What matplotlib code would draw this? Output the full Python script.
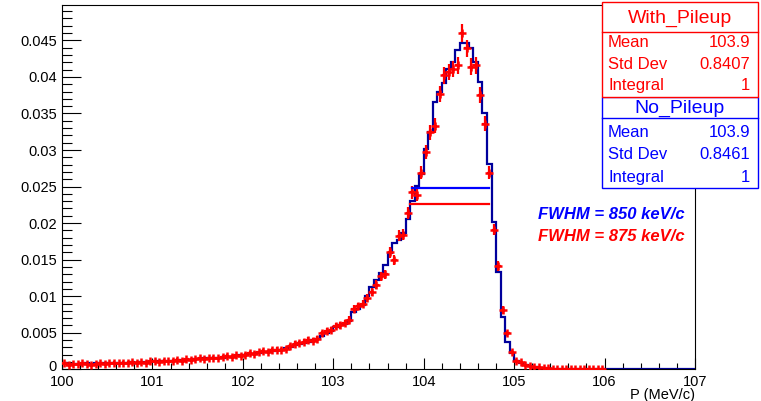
"""Momentum spectrum with and without pileup, drawn in ROOT style."""

import numpy as np
import matplotlib

matplotlib.use("Agg")
import matplotlib.pyplot as plt
from matplotlib.lines import Line2D
from matplotlib.patches import Rectangle
from matplotlib.ticker import FuncFormatter, MultipleLocator

plt.rcParams["font.family"] = ["Liberation Sans", "DejaVu Sans"]

P_MIN = 100.0
P_MAX = 107.0
BIN_WIDTH = 0.05

# 140 bins of 0.05 MeV/c, rows of 10 bins (0.5 MeV/c each)
no_pileup = [
    0.0008, 0.0007, 0.0007, 0.0007, 0.0007, 0.0008, 0.0007, 0.0008, 0.0008, 0.0008,
    0.0009, 0.0008, 0.0009, 0.0009, 0.0009, 0.0010, 0.0009, 0.0010, 0.0010, 0.0010,
    0.0011, 0.0011, 0.0011, 0.0012, 0.0012, 0.0012, 0.0013, 0.0013, 0.0013, 0.0014,
    0.0014, 0.0015, 0.0015, 0.0015, 0.0016, 0.0016, 0.0017, 0.0017, 0.0018, 0.0019,
    0.0020, 0.0021, 0.0021, 0.0022, 0.0023, 0.0024, 0.0025, 0.0026, 0.0027, 0.0029,
    0.0031, 0.0033, 0.0034, 0.0036, 0.0038, 0.0040, 0.0042, 0.0045, 0.0049, 0.0053,
    0.0058, 0.0060, 0.0062, 0.0066, 0.0079, 0.0083, 0.0088, 0.0100, 0.0113, 0.0122,
    0.0132, 0.0143, 0.0159, 0.0173, 0.0177, 0.0187, 0.0205, 0.0230, 0.0251, 0.0267,
    0.0301, 0.0324, 0.0366, 0.0379, 0.0392, 0.0411, 0.0420, 0.0437, 0.0446, 0.0447,
    0.0440, 0.0420, 0.0393, 0.0350, 0.0281, 0.0202, 0.0133, 0.0072, 0.0037, 0.0022,
    0.0012, 0.0009, 0.0006, 0.0004, 0.0003, 0.0002, 0.0002, 0.0001, 0.0001, 0.0001,
    0.0001, 0.0001, 0.00005, 0.00005, 0.00003, 0.00003, 0.00002, 0.00002, 0.00001, 0.00001,
    0.0, 0.0, 0.0, 0.0, 0.0, 0.0, 0.0, 0.0, 0.0, 0.0,
    0.0, 0.0, 0.0, 0.0, 0.0, 0.0, 0.0, 0.0, 0.0, 0.0,
]

with_pileup = [
    0.0008, 0.0006, 0.0007, 0.0007, 0.0008, 0.0007, 0.0006, 0.0007, 0.0008, 0.0007,
    0.0008, 0.0009, 0.0008, 0.0009, 0.0009, 0.0010, 0.0009, 0.0010, 0.0009, 0.0011,
    0.0011, 0.0010, 0.0012, 0.0011, 0.0012, 0.0013, 0.0012, 0.0014, 0.0013, 0.0014,
    0.0015, 0.0014, 0.0015, 0.0016, 0.0015, 0.0017, 0.0018, 0.0017, 0.0019, 0.0018,
    0.0020, 0.0022, 0.0021, 0.0023, 0.0025, 0.0024, 0.0026, 0.0027, 0.0026, 0.0028,
    0.0032, 0.0035, 0.0036, 0.0038, 0.0040, 0.0039, 0.0042, 0.0049, 0.0052, 0.0054,
    0.0059, 0.0060, 0.0063, 0.0068, 0.0083, 0.0086, 0.0090, 0.0097, 0.0106, 0.0116,
    0.0127, 0.0130, 0.0160, 0.0150, 0.0183, 0.0184, 0.0214, 0.0242, 0.0239, 0.0269,
    0.0297, 0.0324, 0.0333, 0.0377, 0.0402, 0.0407, 0.0411, 0.0416, 0.0460, 0.0439,
    0.0414, 0.0416, 0.0375, 0.0336, 0.0269, 0.0191, 0.0141, 0.0081, 0.0049, 0.0024,
    0.0012, 0.0010, 0.0006, 0.0005, 0.0003, 0.0003, 0.0002, 0.0002, 0.0001, 0.0001,
    0.0001, 0.0001, 0.00008, 0.00005, 0.00005, 0.00003, 0.00003, 0.00002, 0.00002, 0.00001,
    0.0, 0.0, 0.0, 0.0, 0.0, 0.0, 0.0, 0.0, 0.0, 0.0,
    0.0, 0.0, 0.0, 0.0, 0.0, 0.0, 0.0, 0.0, 0.0, 0.0,
]

# entries behind the normalised histogram, sets the Poisson error bars
n_entries = 32000

# FWHM bars: (low edge, high edge, height)
fwhm_no_pileup = (103.875, 104.725, 0.0248)
fwhm_with_pileup = (103.85, 104.725, 0.0226)
fwhm_labels = ["FWHM = 850 keV/c", "FWHM = 875 keV/c"]

stats_labels = ["Mean", "Std Dev", "Integral"]
stats_with_pileup = ["103.9", "0.8407", "1"]
stats_no_pileup = ["103.9", "0.8461", "1"]

RED = "#ff0000"
BLUE = "#0000ff"
HIST_BLUE = "#00009c"

W, H = 761, 401


def fx(px):
    return px / W


def fy(py):
    return 1 - py / H


def draw_stats(fig, title, values, color, top, sep, bottom, title_base, row_bases):
    left, right = 601.7, 758.3
    fig.add_artist(Rectangle(
        (fx(left), fy(bottom)), (right - left) / W, (bottom - top) / H,
        transform=fig.transFigure, facecolor="white", edgecolor=color, lw=1.0,
    ))
    fig.add_artist(Line2D(
        [fx(left), fx(right)], [fy(sep), fy(sep)],
        transform=fig.transFigure, color=color, lw=1.0,
    ))
    fig.text(fx((left + right) / 2), fy(title_base), title, color=color,
             fontsize=14, ha="center", va="baseline")
    for label, value, base in zip(stats_labels, values, row_bases):
        fig.text(fx(608), fy(base), label, color=color, fontsize=12,
                 ha="left", va="baseline")
        fig.text(fx(750.5), fy(base), value, color=color, fontsize=12,
                 ha="right", va="baseline")


def main() -> None:
    edges = np.linspace(P_MIN, P_MAX, len(no_pileup) + 1)
    centers = edges[:-1] + BIN_WIDTH / 2
    blue = np.array(no_pileup)
    red = np.array(with_pileup)
    red_err = np.sqrt(red / n_entries)

    fig = plt.figure(figsize=(W / 100, H / 100), dpi=100)
    ax = fig.add_axes([fx(62), fy(369.3), (695 - 62) / W, (369.3 - 5.3) / H])

    ax.stairs(blue, edges, color=HIST_BLUE, lw=1.6, zorder=2)

    mask = red > 0
    ax.errorbar(
        centers[mask], red[mask], xerr=BIN_WIDTH / 2, yerr=red_err[mask],
        fmt="+", ms=5.5, mew=1.8, color=RED, ecolor=RED, elinewidth=1.6,
        capsize=0, zorder=3,
    )

    x0, x1, y = fwhm_no_pileup
    ax.plot([x0, x1], [y, y], color=BLUE, lw=1.6, zorder=4)
    x0, x1, y = fwhm_with_pileup
    ax.plot([x0, x1], [y, y], color=RED, lw=1.6, zorder=4)

    ax.text(0.752, 0.424, fwhm_labels[0], transform=ax.transAxes, color=BLUE,
            fontsize=12, fontweight="bold", fontstyle="italic", va="center")
    ax.text(0.752, 0.364, fwhm_labels[1], transform=ax.transAxes, color=RED,
            fontsize=12, fontweight="bold", fontstyle="italic", va="center")

    ax.set_xlim(P_MIN, P_MAX)
    ax.set_ylim(0, 0.0498)
    ax.xaxis.set_major_locator(MultipleLocator(1))
    ax.xaxis.set_minor_locator(MultipleLocator(0.2))
    ax.yaxis.set_major_locator(MultipleLocator(0.005))
    ax.yaxis.set_minor_locator(MultipleLocator(0.001))
    ax.xaxis.set_major_formatter(FuncFormatter(lambda v, _: f"{v:g}"))
    # the "0" label is drawn by hand a little higher, as ROOT does
    ax.yaxis.set_major_formatter(
        FuncFormatter(lambda v, _: "" if abs(v) < 1e-9 else f"{v:g}")
    )
    ax.tick_params(which="both", direction="in", top=False, right=False,
                   width=0.8, labelsize=10.5)
    ax.tick_params(axis="x", which="major", length=7.9, pad=4)
    ax.tick_params(axis="x", which="minor", length=4.0)
    ax.tick_params(axis="y", which="major", length=13.7, pad=3.6)
    ax.tick_params(axis="y", which="minor", length=7.0)
    for spine in ax.spines.values():
        spine.set_linewidth(0.8)

    fig.text(fx(57), fy(371.0), "0", fontsize=10.5, ha="right", va="baseline")

    ax.text(1.0, -(388 - 369.3) / 364, "P (MeV/c)", transform=ax.transAxes,
            fontsize=10.5, ha="right", va="top")

    draw_stats(fig, "No_Pileup", stats_no_pileup, BLUE,
               96.7, 118.3, 188.3, 113.3, [137.3, 159.3, 181.7])
    draw_stats(fig, "With_Pileup", stats_with_pileup, RED,
               2.0, 31.7, 96.7, 22.7, [46.7, 69.0, 90.0])

    fig.savefig("out.png", dpi=100)
    plt.close(fig)


if __name__ == "__main__":
    main()
